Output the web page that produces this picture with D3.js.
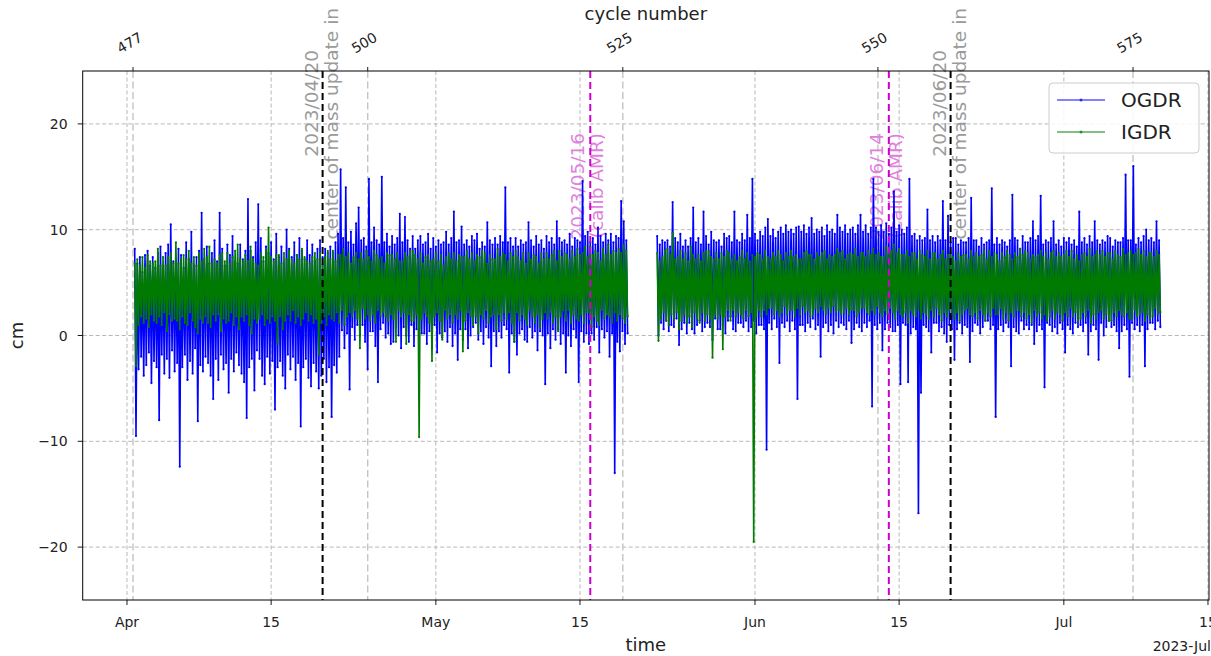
<!DOCTYPE html>
<html>
<head>
<meta charset="utf-8">
<script src="https://cdn.jsdelivr.net/npm/d3@7"></script>
<style>
body{margin:0;background:#fff;}
text{font-family:"DejaVu Sans",sans-serif;}
</style>
</head>
<body>
<svg width="1211" height="656"></svg>
<script>
// samples every 3 hours, two stretches separated by a data gap
var startA = Date.UTC(2023, 3, 1, 18);
var startB = Date.UTC(2023, 4, 22, 12);
var stepHours = 3;

var ogdrA = [
 8.2,-9.5,6.8,-3.2,7.4,-2.0,6.0,-3.8, 7.6,-2.8,8.0,-1.6,6.6,-4.5,7.4,-2.4,
 6.4,-3.0,7.8,-8.0,8.4,-1.8,6.2,-3.6, 7.8,-2.2,8.6,-4.0,10.5,-1.4,7.0,-3.4,
 6.8,-2.6,8.2,-12.4,7.6,-3.0,6.4,-1.8, 8.8,-4.2,7.2,-2.4,9.8,-3.6,6.6,-1.2,
 7.4,-8.1,8.0,-2.8,11.6,-3.4,7.2,-2.0, 8.4,-2.6,6.8,-3.8,7.8,-6.0,9.0,-2.2,
 7.0,-4.2,11.6,-1.8,8.2,-3.2,6.6,-2.6, 8.6,-5.4,7.6,-2.2,9.4,-3.4,7.0,-1.6,
 6.8,-2.8,8.6,-3.6,7.2,-4.4,8.0,-7.8, 12.9,-3.0,8.0,-2.2,7.4,-5.2,8.8,-1.4,
 12.4,-2.2,9.2,-3.8,7.0,-4.6,8.4,-2.0, 7.8,-3.6,8.8,-2.4,7.2,-7.0,9.6,-3.0,
 7.4,-2.4,8.4,-3.8,6.8,-5.0,10.0,-1.8, 8.2,-3.2,7.4,-2.0,8.8,-4.2,7.6,-2.6,
 9.2,-8.6,8.0,-3.0,7.2,-2.2,9.0,-4.0, 7.6,-4.8,8.6,-2.6,7.0,-3.4,8.2,-5.0,
 9.0,-3.8,7.4,-2.2,8.2,-4.4,7.8,-3.0, 8.4,-7.7,7.8,-2.8,8.8,-3.5,9.6,-2.0,
 15.7,0.5,9.2,-1.2,14.0,0.2,8.8,-5.1, 9.8,0.8,8.6,-0.4,10.6,1.0,12.1,0.0,
 9.0,1.0,9.2,-0.6,8.4,-3.2,14.8,0.4, 8.8,0.4,10.2,-1.0,9.0,-4.4,8.6,0.6,
 15.0,1.2,8.8,-0.2,9.6,0.2,8.4,-0.8, 9.4,-0.6,8.6,0.8,9.2,0.0,11.5,-1.2,
 8.8,0.8,11.2,0.0,9.0,-0.6,8.2,1.0, 9.4,-1.0,8.2,0.6,9.0,-0.4,9.4,0.2,
 8.6,0.2,8.8,-0.8,9.6,0.4,8.2,-1.2, 9.2,1.0,8.4,-1.6,9.0,0.2,8.6,-0.2,
 8.8,0.4,9.8,-0.6,8.6,0.8,9.2,-1.0, 11.7,0.2,8.8,-2.3,9.0,0.6,10.3,-0.4,
 8.6,0.6,9.0,-1.2,8.4,0.0,9.4,0.8, 9.0,1.2,9.6,-0.4,8.2,0.4,8.8,-0.8,
 8.4,0.8,10.7,-0.2,9.0,-2.9,8.6,0.4, 9.2,-1.0,8.6,0.4,9.4,-0.2,8.8,1.0,
 14.0,0.6,8.8,-3.5,9.2,0.2,8.4,-0.6, 9.2,-1.8,8.4,0.2,9.0,0.6,8.6,-0.4,
 8.8,-0.6,10.7,0.8,9.0,-0.2,8.4,0.4, 9.4,-1.4,8.6,0.4,9.0,0.0,8.2,-4.6,
 9.4,0.2,8.8,-1.2,9.2,0.6,8.6,-0.4, 10.8,0.6,9.2,-0.8,8.8,0.2,9.0,-3.5,
 8.6,0.0,9.6,-1.0,8.4,0.6,9.2,-0.2, 9.0,-4.4,8.8,0.4,14.6,-0.6,9.4,0.2,
 9.8,-0.8,8.8,0.2,9.2,-0.4,8.6,0.8, 10.2,-1.6,9.4,0.6,8.8,-0.2,9.6,0.4,
 9.0,-2.0,9.6,0.2,8.8,-13.0,9.4,-0.6, 9.2,-1.5,12.7,0.4,10.8,-0.8,9.0,0.2
];
var igdrA = [
 6.8,-2.9,7.2,1.0,6.6,1.8,7.4,1.2, 6.4,1.6,7.6,0.8,7.0,2.0,6.8,1.4,
 7.0,1.2,8.2,1.8,6.6,1.0,7.4,2.2, 6.6,0.4,7.4,2.0,7.8,1.4,6.8,1.6,
 8.8,1.4,6.8,0.6,7.2,1.8,7.6,1.2, 7.2,1.0,8.0,2.2,6.8,1.4,7.4,0.8,
 6.6,0.2,7.8,1.6,7.0,1.2,8.2,1.8, 7.4,1.2,8.4,0.8,6.8,2.0,7.2,1.4,
 6.8,2.0,7.6,0.4,7.8,1.6,7.0,1.2, 7.8,1.4,6.8,2.2,7.4,1.0,8.0,1.8,
 8.6,0.6,7.2,1.8,7.0,1.4,7.6,2.0, 7.0,1.0,8.4,0.2,7.2,1.6,6.8,1.2,
 6.6,1.6,7.8,2.0,7.4,1.0,8.0,1.6, 10.2,1.2,7.4,1.8,7.0,1.4,7.6,-0.8,
 7.6,1.8,6.8,0.6,7.8,1.4,7.2,2.0, 8.0,1.4,7.2,2.4,6.8,1.2,7.6,1.8,
 7.2,1.0,8.2,1.6,7.4,2.2,7.0,1.4, 6.8,2.0,7.4,1.2,7.8,1.6,7.2,-1.8,
 7.8,1.2,6.6,1.8,7.4,1.0,8.0,2.0, 7.2,1.6,8.0,1.4,7.0,2.2,7.6,1.2,
 7.6,2.4,8.2,1.0,7.4,1.8,7.8,2.2, 6.8,1.8,7.4,2.4,7.8,1.6,7.2,-1.2,
 7.8,2.6,7.2,1.6,8.0,2.0,7.4,1.4, 7.0,2.0,8.0,1.2,7.6,2.4,7.2,1.8,
 7.4,2.2,6.8,1.8,7.8,1.4,7.6,2.0, 7.6,1.6,7.2,-0.6,7.8,2.4,7.0,1.8,
 7.0,2.2,7.8,-0.8,7.4,2.0,8.0,1.4, 8.0,1.4,7.6,2.0,7.2,-9.6,7.8,1.6,
 6.8,2.2,7.4,1.8,7.6,1.2,7.0,-2.4, 7.2,1.8,7.8,2.2,7.0,1.4,7.6,-0.4,
 6.6,2.4,7.4,1.6,7.8,2.0,7.2,1.2, 7.8,2.0,7.0,1.6,7.6,2.4,7.4,-1.5,
 7.4,1.4,8.0,2.2,7.2,1.8,7.8,1.0, 7.0,1.8,7.6,0.2,7.4,2.0,8.0,1.6,
 7.8,2.4,6.8,1.2,7.6,1.8,7.2,2.0, 7.2,0.6,8.2,2.0,7.4,1.4,7.8,2.2,
 7.6,1.6,7.0,2.2,7.8,1.2,7.4,-0.6, 8.0,2.2,7.4,1.4,7.0,2.0,7.8,1.6,
 6.8,1.0,7.8,2.4,7.2,1.8,7.6,1.2, 7.4,2.0,6.8,0.8,7.8,1.6,7.2,2.2,
 7.8,1.6,7.2,2.2,7.6,1.2,8.0,1.8, 7.0,0.4,8.0,1.8,7.4,2.4,7.8,1.4,
 7.6,2.4,7.2,1.2,8.0,2.0,7.4,1.6, 8.2,1.4,7.6,2.0,7.8,1.2,8.4,2.2,
 7.4,2.2,8.4,0.8,7.6,1.8,8.0,1.4, 7.8,1.0,7.0,2.4,8.2,1.6,7.6,2.0,
 8.6,1.8,7.6,1.2,8.0,2.2,7.8,1.4, 8.2,2.0,7.8,1.6,8.6,1.2,8.0,1.8
];
var ogdrB = [
 9.4,0.0,8.6,1.2,9.0,0.6,8.8,1.4, 9.0,0.4,8.4,1.0,12.6,0.8,9.2,1.6,
 8.8,-0.9,9.6,0.6,8.4,1.2,9.0,0.2, 8.4,1.2,9.2,0.6,12.1,0.2,8.8,1.0,
 9.2,1.4,8.6,0.4,11.7,0.8,9.4,1.2, 8.6,0.8,9.8,-0.4,9.0,1.6,8.8,0.6,
 9.0,0.6,8.4,1.0,9.6,0.2,9.2,1.4, 9.4,1.8,8.8,0.6,11.7,0.4,9.0,1.2,
 8.8,1.2,9.6,0.8,9.0,1.4,11.4,0.4, 9.2,0.8,14.8,1.4,9.6,0.2,9.0,1.0,
 9.8,1.0,9.4,0.6,10.2,-10.8,11.0,1.2, 9.4,0.6,10.0,1.6,9.2,0.8,9.8,-2.6,
 10.2,1.2,9.6,0.8,10.4,1.4,9.8,0.4, 10.0,1.4,9.6,0.6,10.2,-6.0,10.3,1.0,
 9.8,1.0,10.4,0.4,9.6,1.2,10.2,0.8, 11.1,1.6,9.6,0.6,10.0,1.0,9.8,-2.0,
 10.2,0.8,9.4,1.2,10.4,0.4,9.8,1.0, 10.0,0.2,9.6,1.4,11.4,0.8,10.2,1.2,
 9.8,1.0,10.4,0.6,9.6,1.4,10.0,-0.7, 10.2,0.6,9.6,1.2,10.4,0.8,11.4,0.4,
 9.8,1.2,10.4,0.8,9.6,1.4,10.2,-6.7, 14.8,1.0,10.2,0.6,9.8,1.2,10.4,-1.4,
 9.8,0.6,10.6,1.2,9.6,0.8,10.2,0.4, 13.6,0.4,9.8,1.0,10.4,-4.6,10.0,1.2,
 9.6,1.0,10.2,-4.4,14.8,0.2,9.4,0.8, 9.6,0.6,9.0,-16.8,9.4,-5.4,9.0,1.0,
 9.2,0.8,11.9,0.4,9.0,-1.6,9.4,1.2, 8.8,1.2,9.4,0.4,9.0,0.8,12.7,0.2,
 9.0,-0.6,11.3,1.0,8.8,0.6,9.2,-2.3, 9.2,0.6,8.6,1.2,9.0,0.2,8.8,1.0,
 8.8,0.8,9.2,-2.5,13.0,0.4,9.0,1.2, 9.0,1.0,8.4,0.2,9.2,0.8,8.6,1.4,
 8.8,1.4,9.0,0.6,13.9,1.0,8.6,-7.7, 9.2,0.6,8.6,1.0,9.0,0.4,8.8,1.2,
 8.4,0.8,9.0,-2.9,13.3,0.8,9.2,0.4, 9.0,0.2,8.2,1.4,9.4,0.6,8.8,1.0,
 8.8,0.6,9.2,1.0,10.8,-0.8,9.0,0.4, 9.4,1.0,13.2,0.6,8.6,-4.9,9.0,1.2,
 8.8,1.0,9.2,0.4,10.8,0.8,8.6,0.2, 9.0,1.2,8.4,0.6,9.2,-1.6,8.8,1.0,
 9.2,0.6,8.6,0.2,9.0,1.2,8.4,0.8, 11.7,1.0,8.8,0.4,9.2,1.2,8.6,-1.8,
 9.4,0.4,8.8,1.0,10.8,0.6,9.0,-2.3, 8.6,1.2,9.0,0.0,8.8,0.8,9.4,1.4,
 9.2,0.8,8.4,1.0,9.0,0.4,8.8,-1.2, 8.8,0.4,9.2,1.0,15.2,0.6,9.0,-3.9,
 9.0,1.2,16.0,0.6,8.6,1.0,9.2,0.4, 8.8,1.0,9.4,-2.9,10.0,0.6,9.0,1.2,
 9.2,1.2,8.8,0.6,10.8,1.4,9.0,0.8
];
var igdrB = [
 7.8,-0.5,7.0,1.6,7.4,2.2,8.0,1.4, 8.2,1.0,7.6,2.0,9.7,1.6,7.2,2.2,
 7.4,0.6,8.0,1.4,7.2,2.0,7.8,1.2, 7.0,1.8,8.4,0.8,7.6,2.2,7.2,1.6,
 7.6,1.2,7.0,2.2,7.8,1.4,8.0,2.0, 8.0,1.6,7.4,-2.1,7.2,2.0,7.8,1.6,
 7.2,2.0,7.8,-1.3,7.4,1.8,8.0,2.4, 7.8,1.4,7.2,2.4,7.6,1.8,7.0,2.2,
 7.4,2.0,8.0,1.6,7.2,2.4,7.8,1.8, 7.0,2.2,7.6,-19.5,7.4,1.8,7.8,2.4,
 7.6,1.8,7.2,2.4,8.0,2.0,7.4,2.6, 7.2,2.6,7.8,2.0,7.4,2.4,8.0,1.8,
 7.6,2.2,7.0,2.8,7.8,2.0,7.4,2.4, 8.0,2.4,7.4,1.8,7.6,2.6,7.2,2.0,
 7.2,2.8,7.8,2.2,8.0,2.4,7.6,1.8, 7.6,2.0,7.2,2.6,7.8,2.2,7.4,2.8,
 7.8,2.4,8.0,2.0,7.2,2.6,7.6,2.2, 7.4,2.8,7.6,2.2,8.2,2.4,7.8,2.0,
 8.0,2.2,7.2,2.6,7.6,2.0,7.8,2.4, 7.6,2.4,8.2,1.8,7.4,2.2,7.8,2.6,
 7.8,2.6,7.4,2.2,8.0,2.0,7.6,2.4, 8.2,2.0,7.6,2.8,7.8,2.2,7.4,1.8,
 7.4,2.4,8.4,2.0,7.6,2.6,8.0,2.2, 8.6,1.6,7.8,2.4,8.2,2.0,7.6,1.8,
 7.6,2.2,8.0,1.2,7.4,2.4,7.8,2.0, 7.8,1.8,7.2,2.4,8.0,1.6,7.6,2.2,
 7.4,2.0,8.0,1.6,7.2,2.4,7.8,1.8, 7.8,2.6,7.2,2.0,7.6,1.4,8.0,2.2,
 7.2,1.8,7.6,2.4,7.8,2.0,7.4,1.6, 7.0,2.2,7.8,1.4,7.4,2.0,7.6,2.4,
 7.6,2.6,7.2,2.0,8.0,1.8,7.4,2.2, 7.8,1.6,7.4,2.4,7.6,2.0,8.0,1.4,
 7.2,2.2,8.0,1.8,7.4,2.6,7.8,2.0, 7.6,2.0,7.0,2.6,7.8,1.6,7.4,2.2,
 8.0,1.4,7.6,2.2,7.2,1.8,7.8,2.4, 7.4,2.4,8.2,1.8,7.6,2.2,8.0,1.6,
 7.8,2.0,7.2,1.2,7.6,2.4,7.4,1.8, 7.6,2.2,8.0,1.6,7.4,2.0,7.8,1.4,
 7.2,1.8,7.8,2.4,8.0,1.6,7.4,2.2, 7.8,2.0,7.4,1.4,7.6,2.2,8.0,1.8,
 7.4,2.6,8.0,1.8,7.2,2.2,7.6,1.4, 7.0,1.6,7.6,2.2,7.8,1.8,7.4,2.4,
 8.2,1.2,7.4,2.0,7.6,1.6,8.0,2.2, 7.6,2.4,8.0,1.6,7.4,2.0,7.8,1.4,
 7.8,1.4,7.2,2.2,8.0,1.8,7.6,2.4, 7.4,2.0,8.2,1.8,7.6,2.2,7.8,1.6,
 8.0,1.6,7.6,2.4,7.8,1.8,8.2,2.0, 7.6,2.2,8.0,1.4,7.4,2.0,7.8,1.6,
 7.8,1.8,7.4,2.6,8.0,2.0,7.6,2.2
];

var dateTicks = [[2023,3,1],[2023,3,15],[2023,4,1],[2023,4,15],[2023,5,1],[2023,5,15],[2023,6,1],[2023,6,15]];
var dateLabels = ['Apr','15','May','15','Jun','15','Jul','15'];
var yTicks = [-20, -10, 0, 10, 20];
var cycleTicks = [477, 500, 525, 550, 575];
var cycleRef = 477, cycleRefTime = Date.UTC(2023, 3, 1, 14), cycleDays = 0.9912;

var eventDates = [[2023,3,20],[2023,4,16],[2023,5,14],[2023,5,20]];
var eventKinds = ['com','calib','calib','com'];
var eventLines = [
  ['2023/04/20','center of mass update in'],
  ['2023/05/16','(calib AMR)'],
  ['2023/06/14','(calib AMR)'],
  ['2023/06/20','center of mass update in']
];

var seriesNames = ['OGDR', 'IGDR'];
var seriesColors = ['#0000ff', '#007a00'];

function utc(a){ return new Date(Date.UTC(a[0], a[1], a[2])); }

function toPoints(start, vals){
  return vals.map(function(v, i){
    return {t: new Date(start + i*stepHours*3600000), v: v};
  });
}

var svg = d3.select('svg');
var L = 82.7, R = 1209, T = 71, B = 600;

var x = d3.scaleUtc()
  .domain([new Date(Date.UTC(2023, 2, 27, 16, 44)), new Date(Date.UTC(2023, 6, 15, 2, 24))])
  .range([L, R]);
var y = d3.scaleLinear().domain([-25, 25]).range([B, T]);

function cycleX(c){
  return x(new Date(cycleRefTime + (c - cycleRef)*cycleDays*86400000));
}

svg.append('defs').append('clipPath').attr('id', 'plotclip')
  .append('rect').attr('x', L).attr('y', T).attr('width', R-L).attr('height', B-T);

// grids
var grid = svg.append('g');
grid.selectAll('.hg').data(yTicks).enter().append('line')
  .attr('x1', L).attr('x2', R)
  .attr('y1', function(d){ return y(d); }).attr('y2', function(d){ return y(d); })
  .attr('stroke', '#b0b0b0').attr('stroke-width', 0.9).attr('stroke-dasharray', '4,2.5');
grid.selectAll('.dg').data(dateTicks).enter().append('line')
  .attr('x1', function(d){ return x(utc(d)); }).attr('x2', function(d){ return x(utc(d)); })
  .attr('y1', T).attr('y2', B)
  .attr('stroke', '#b0b0b0').attr('stroke-width', 0.9).attr('stroke-dasharray', '4,2.5');
grid.selectAll('.cg').data(cycleTicks).enter().append('line')
  .attr('x1', cycleX).attr('x2', cycleX)
  .attr('y1', T).attr('y2', B)
  .attr('stroke', '#c4c4c4').attr('stroke-width', 1.4).attr('stroke-dasharray', '7,3.5');

// event annotations (drawn behind the data)
var ann = svg.append('g');
eventDates.forEach(function(d, i){
  var ex = x(utc(d));
  var com = eventKinds[i] == 'com';
  var col = com ? '#9a9a9a' : '#df80df';
  var ends = com ? [50, 8] : [133, 133];
  var offs = com ? [-5, 15] : [-6, 13];
  eventLines[i].forEach(function(s, j){
    ann.append('text')
      .attr('transform', 'translate(' + (ex + offs[j]) + ',' + ends[j] + ') rotate(-90)')
      .attr('text-anchor', 'end')
      .attr('font-size', 18.5)
      .attr('fill', col)
      .text(s);
  });
});

// data
var plot = svg.append('g').attr('clip-path', 'url(#plotclip)');
var line = d3.line().x(function(d){ return x(d.t); }).y(function(d){ return y(d.v); });
var series = [
  [toPoints(startA, ogdrA), toPoints(startB, ogdrB)],
  [toPoints(startA, igdrA), toPoints(startB, igdrB)]
];
series.forEach(function(segs, k){
  segs.forEach(function(pts){
    plot.append('path').datum(pts)
      .attr('d', line)
      .attr('fill', 'none')
      .attr('stroke', seriesColors[k])
      .attr('stroke-width', 1.6)
      .attr('stroke-linejoin', 'miter')
      .attr('stroke-miterlimit', 1);
    plot.selectAll(null).data(pts).enter().append('circle')
      .attr('cx', function(d){ return x(d.t); })
      .attr('cy', function(d){ return y(d.v); })
      .attr('r', 1.1)
      .attr('fill', seriesColors[k]);
  });
});

// event lines
eventDates.forEach(function(d, i){
  var ex = x(utc(d));
  plot.append('line')
    .attr('x1', ex).attr('x2', ex).attr('y1', T).attr('y2', B)
    .attr('stroke', eventKinds[i] == 'com' ? '#000000' : '#cc00cc')
    .attr('stroke-width', 2)
    .attr('stroke-dasharray', '7,4');
});

// spines
svg.append('rect').attr('x', L).attr('y', T).attr('width', R-L).attr('height', B-T)
  .attr('fill', 'none').attr('stroke', '#000').attr('stroke-width', 1);

// bottom axis
var bx = svg.append('g');
dateTicks.forEach(function(d, i){
  var tx = x(utc(d));
  bx.append('line').attr('x1', tx).attr('x2', tx).attr('y1', B).attr('y2', B+5)
    .attr('stroke', '#000').attr('stroke-width', 0.9);
  bx.append('text').attr('x', tx).attr('y', B+27).attr('text-anchor', 'middle')
    .attr('font-size', 14).attr('fill', '#222').text(dateLabels[i]);
});
svg.append('text').attr('x', (L+R)/2).attr('y', 651).attr('text-anchor', 'middle')
  .attr('font-size', 18).attr('fill', '#222').text('time');
svg.append('text').attr('x', 1211).attr('y', 651).attr('text-anchor', 'end')
  .attr('font-size', 14).attr('fill', '#222').text('2023-Jul');

// left axis
yTicks.forEach(function(v){
  svg.append('line').attr('x1', L-5).attr('x2', L).attr('y1', y(v)).attr('y2', y(v))
    .attr('stroke', '#000').attr('stroke-width', 0.9);
  svg.append('text').attr('x', L-15).attr('y', y(v)+5).attr('text-anchor', 'end')
    .attr('font-size', 14).attr('fill', '#222')
    .text(v < 0 ? '\u2212' + (-v) : v);
});
svg.append('text').attr('transform', 'translate(23,' + ((T+B)/2) + ') rotate(-90)')
  .attr('text-anchor', 'middle').attr('font-size', 18).attr('fill', '#222').text('cm');

// top axis (cycle number)
cycleTicks.forEach(function(c){
  var cx = cycleX(c);
  svg.append('line').attr('x1', cx).attr('x2', cx).attr('y1', T-4).attr('y2', T)
    .attr('stroke', '#000').attr('stroke-width', 0.9);
  svg.append('text').attr('transform', 'translate(' + (cx-1) + ',47) rotate(-30)')
    .attr('text-anchor', 'middle').attr('font-size', 14).attr('fill', '#222').text(c);
});
svg.append('text').attr('x', (L+R)/2).attr('y', 20).attr('text-anchor', 'middle')
  .attr('font-size', 18).attr('fill', '#222').text('cycle number');

// legend
var lg = svg.append('g').attr('transform', 'translate(1049,83)');
lg.append('rect').attr('width', 150).attr('height', 70).attr('rx', 4)
  .attr('fill', '#fff').attr('fill-opacity', 0.85).attr('stroke', '#cccccc');
seriesNames.forEach(function(n, i){
  var ly = 17 + i*32;
  lg.append('line').attr('x1', 8).attr('x2', 56).attr('y1', ly).attr('y2', ly)
    .attr('stroke', seriesColors[i]).attr('stroke-opacity', 0.65).attr('stroke-width', 1.5);
  lg.append('circle').attr('cx', 32).attr('cy', ly).attr('r', 1.5)
    .attr('fill', seriesColors[i]).attr('fill-opacity', 0.7);
  lg.append('text').attr('x', 72).attr('y', ly+7).attr('font-size', 20)
    .attr('fill', '#222').text(n);
});
</script>
</body>
</html>
